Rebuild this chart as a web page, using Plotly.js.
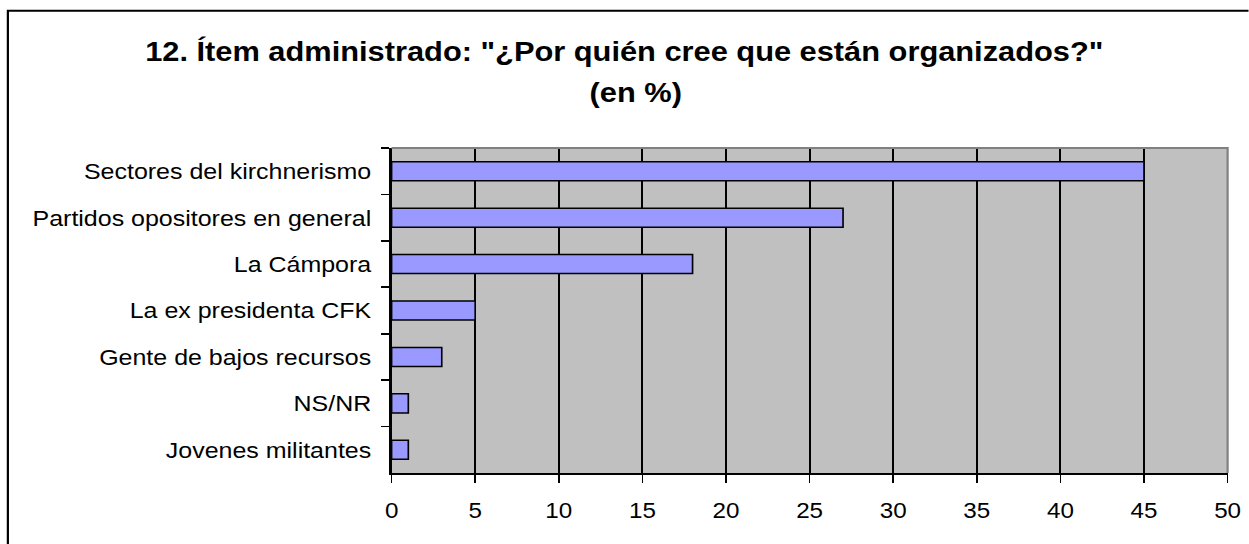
<!DOCTYPE html>
<html>
<head>
<meta charset="utf-8">
<script src="https://cdn.plot.ly/plotly-3.0.1.min.js"></script>
<style>
  html, body { margin: 0; padding: 0; background: #fff; overflow: hidden; }
  #wrap { position: relative; width: 1135px; height: 544px; transform: scaleX(1.1); transform-origin: 0 0; }
  #chart { position: absolute; left: 0; top: 0; width: 1135px; height: 544px; }
</style>
</head>
<body>
<div id="wrap">
  <div id="chart"></div>
</div>
<script>
// respuestas (en %)
var categorias = ["Sectores del kirchnerismo", "Partidos opositores en general", "La Cámpora",
                  "La ex presidenta CFK", "Gente de bajos recursos", "NS/NR", "Jovenes militantes"];
var porcentajes = [45, 27, 18, 5, 3, 1, 1];
var ticksX = [0, 5, 10, 15, 20, 25, 30, 35, 40, 45, 50];

var trace = {
  type: "bar",
  orientation: "h",
  y: categorias,
  x: porcentajes,
  marker: { color: "#9999FF", line: { color: "#000", width: 1.5 } },
  hoverinfo: "x+y"
};

var layout = {
  width: 1135,
  height: 544,
  margin: { l: 356.4, r: 19, t: 147.5, b: 71 },
  paper_bgcolor: "#fff",
  plot_bgcolor: "#C0C0C0",
  font: { family: "Liberation Sans, Arial, sans-serif", size: 22, color: "#000" },
  title: {
    text: "<b>12. Ítem administrado: \"¿Por quién cree que están organizados?\"</b>",
    font: { size: 28, color: "#000" },
    x: 0.5, xref: "container", xanchor: "center",
    y: 1 - 41 / 544, yref: "container", yanchor: "top"
  },
  annotations: [{
    text: "<b>(en %)</b>",
    font: { size: 28, color: "#000" },
    xref: "paper", yref: "paper",
    x: 0.2917, xanchor: "center",
    y: 1.1183, yanchor: "bottom",
    showarrow: false
  }],
  bargap: 0.59,
  showlegend: false,
  xaxis: {
    range: [0, 50],
    tickvals: ticksX,
    ticks: "outside", ticklen: 8, tickwidth: 1.6, tickcolor: "#000",
    showgrid: true, gridcolor: "#000", gridwidth: 1.7,
    showline: true, linecolor: "#000", linewidth: 2,
    zeroline: false,
    ticklabelstandoff: 9
  },
  yaxis: {
    autorange: "reversed",
    tickson: "boundaries",
    ticks: "outside", ticklen: 8, tickwidth: 1.6, tickcolor: "#000",
    tickfont: { size: 22.7 },
    showgrid: false,
    showline: true, linecolor: "#000", linewidth: 2,
    ticklabelstandoff: 12
  },
  shapes: [
    { // borde gris del área de trazado (arriba y derecha)
      type: "path", xref: "paper", yref: "paper",
      path: "M 0 1 L 1 1 L 1 0",
      line: { color: "#808080", width: 2 }, layer: "above"
    },
    { // marco exterior del gráfico
      type: "rect", xref: "paper", yref: "paper",
      x0: -0.459, x1: 1.2, y0: -0.5, y1: 1.4224,
      line: { color: "#000", width: 2 }, layer: "above"
    }
  ]
};

Plotly.newPlot("chart", [trace], layout, { displayModeBar: false, staticPlot: true });
</script>
</body>
</html>
